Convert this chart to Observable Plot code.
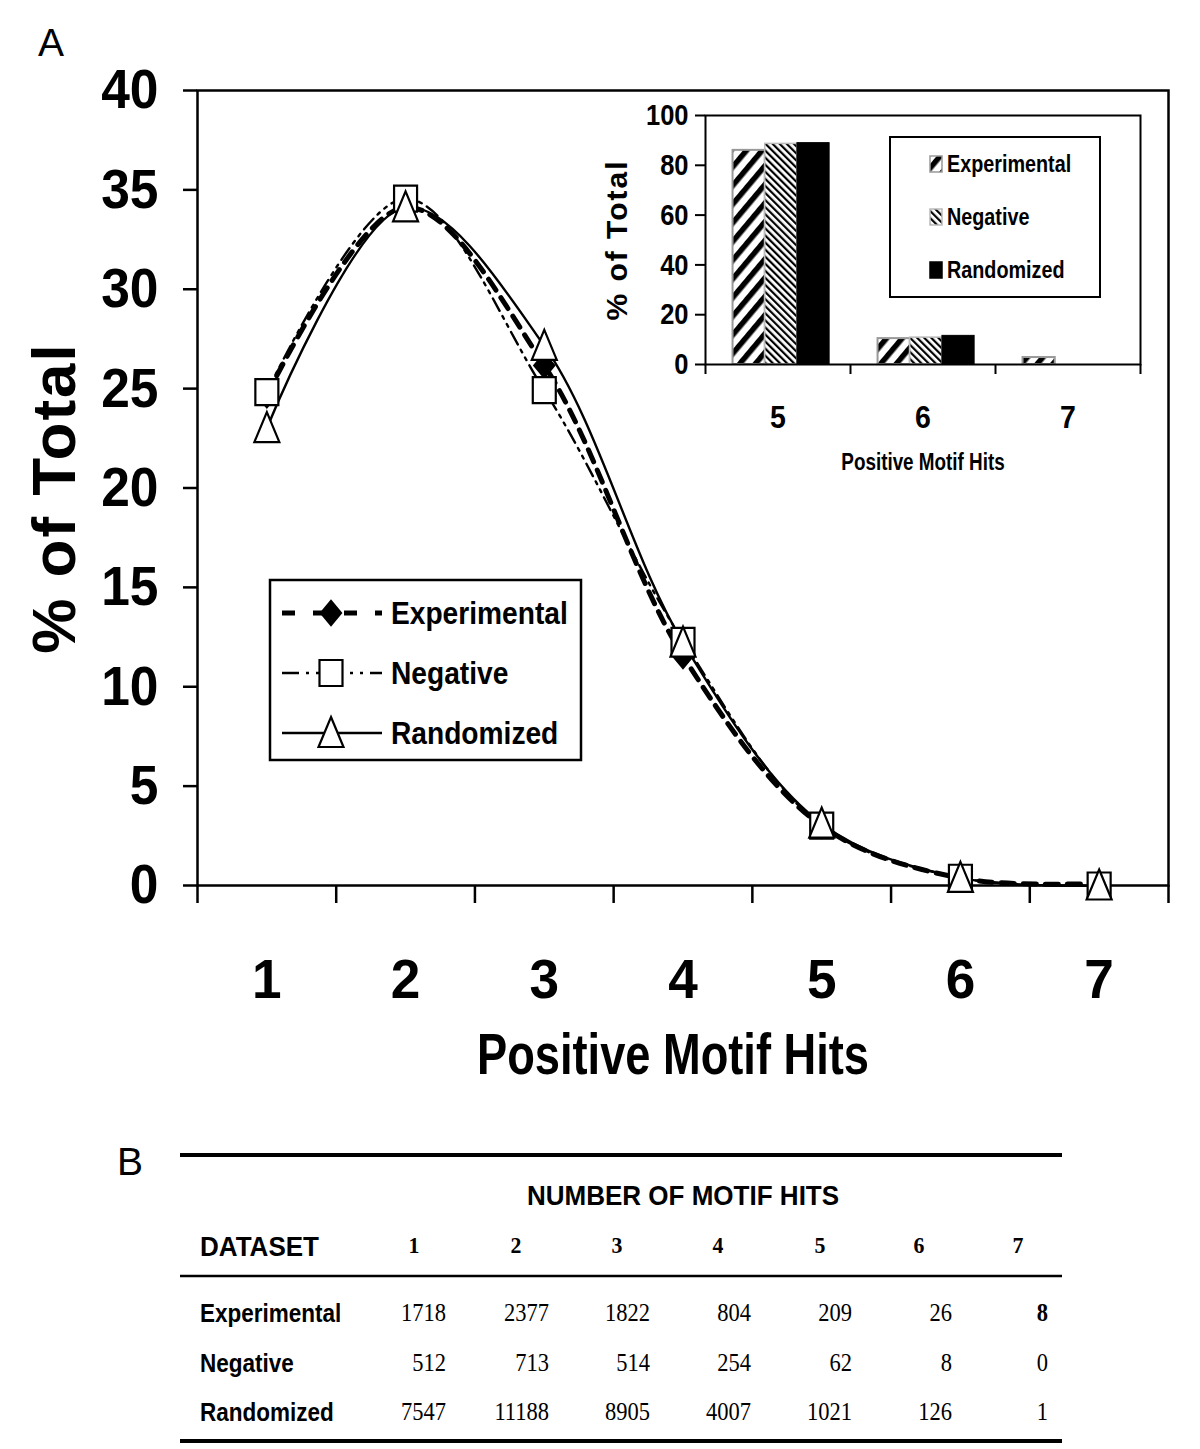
<!DOCTYPE html>
<html><head><meta charset="utf-8">
<script src="https://cdn.jsdelivr.net/npm/d3@7"></script>
<script src="https://cdn.jsdelivr.net/npm/@observablehq/plot@0.6"></script>
<style>
body{margin:0;background:#fff;}
#root{position:relative;width:1200px;height:1449px;overflow:hidden;background:#fff;}
</style></head><body><div id="root"></div>
<script>
// ---------- data ----------
const hits = [1, 2, 3, 4, 5, 6, 7];
const seriesNames = ["Experimental", "Negative", "Randomized"];
const experimentalPct = [24.67, 34.13, 26.16, 11.55, 3.00, 0.37, 0.11];
const negativePct = [24.82, 34.56, 24.92, 12.31, 3.01, 0.39, 0.00];
const randomizedPct = [23.01, 34.12, 27.15, 12.22, 3.11, 0.38, 0.00];
const yTicks = [0, 5, 10, 15, 20, 25, 30, 35, 40];
const xBoundaries = [0.5, 1.5, 2.5, 3.5, 4.5, 5.5, 6.5, 7.5];

const insetHits = [5, 6, 7];
const insetExperimental = [86.0, 10.4, 2.8];
const insetNegative = [88.6, 10.8, 0];
const insetRandomized = [88.9, 11.5, 0];
const insetYTicks = [0, 20, 40, 60, 80, 100];
const insetBoundaries = [4.5, 5.5, 6.5, 7.5];

const tableTitle = "NUMBER OF MOTIF HITS";
const tableHeader = ["1", "2", "3", "4", "5", "6", "7"];
const experimentalCounts = ["1718", "2377", "1822", "804", "209", "26", "8"];
const negativeCounts = ["512", "713", "514", "254", "62", "8", "0"];
const randomizedCounts = ["7547", "11188", "8905", "4007", "1021", "126", "1"];

// ---------- helpers ----------
const SANS = '"Liberation Sans", Arial, Helvetica, sans-serif';
const SERIF = '"Liberation Serif", "Times New Roman", Times, serif';

function condense(svg, selector, sx) {
  d3.select(svg).selectAll(selector).each(function () {
    const t = d3.select(this);
    const tr = t.attr("transform") || "";
    const x = t.attr("x");
    if (x != null && !isNaN(+x)) t.attr("x", +x / sx);
    t.attr("transform", `${tr} scale(${sx},1)`);
  });
}

const symbols = {
  diamond: {draw(c) { c.moveTo(0, -12); c.lineTo(10, 0); c.lineTo(0, 12); c.lineTo(-10, 0); c.closePath(); }},
  square: {draw(c) { c.rect(-11.5, -13, 23, 26); }},
  triangle: {draw(c) { c.moveTo(0, -16); c.lineTo(12.5, 14); c.lineTo(-12.5, 14); c.closePath(); }}
};
const symPath = s => { const p = d3.path(); symbols[s].draw(p); return p.toString(); };

const styles = {
  Experimental: {strokeWidth: 5, dash: "13,9", legendDash: "13,18", sym: "diamond", fill: "black"},
  Negative: {strokeWidth: 2.4, dash: "14,6,3,6,3,6", legendDash: "17,7,3,7,3,7", sym: "square", fill: "white"},
  Randomized: {strokeWidth: 2.4, dash: null, legendDash: null, sym: "triangle", fill: "white"}
};

const rows = [];
hits.forEach((h, i) => {
  rows.push({hit: h, series: "Experimental", pct: experimentalPct[i]});
  rows.push({hit: h, series: "Negative", pct: negativePct[i]});
  rows.push({hit: h, series: "Randomized", pct: randomizedPct[i]});
});
const bySeries = s => rows.filter(d => d.series === s);

const root = d3.select("#root");

// ---------- main chart ----------
const main = Plot.plot({
  width: 1200, height: 1100,
  marginLeft: 197, marginRight: 32, marginTop: 90, marginBottom: 215,
  style: {background: "transparent", fontFamily: SANS, fontWeight: "bold", color: "black", overflow: "visible"},
  x: {domain: [0.5, 7.5], label: null},
  y: {domain: [0, 40], label: null},
  marks: [
    Plot.axisY({ticks: yTicks, tickSize: 14, tickPadding: 25, fontSize: 56, strokeWidth: 2.5, tickFormat: d => String(d)}),
    Plot.axisX({ticks: hits, tickSize: 0, tickPadding: 73, fontSize: 56, tickFormat: d => String(d)}),
    Plot.axisX({ticks: xBoundaries, tickSize: 18, strokeWidth: 2.5, tickFormat: () => ""}),
    Plot.frame({stroke: "black", strokeWidth: 2.5}),
    ...seriesNames.map(s => Plot.line(bySeries(s), {
      x: "hit", y: "pct", curve: "catmull-rom", stroke: "black",
      strokeWidth: styles[s].strokeWidth, strokeDasharray: styles[s].dash
    })),
    ...seriesNames.map(s => Plot.dot(bySeries(s), {
      x: "hit", y: "pct", symbol: symbols[styles[s].sym], r: 10,
      fill: styles[s].fill, stroke: "black", strokeWidth: 2.2
    })),
    Plot.text(["Positive Motif Hits"], {frameAnchor: "bottom", dy: 170, dx: -10, fontSize: 58, fontWeight: "bold", lineAnchor: "middle", textAnchor: "middle"}),
    Plot.text(["% of Total"], {frameAnchor: "left", rotate: -90, dx: -142, dy: 10, fontSize: 62, fontWeight: "bold", lineAnchor: "middle", textAnchor: "middle"})
  ]
});
d3.select(main).style("position", "absolute").style("left", "0px").style("top", "0px");
root.node().appendChild(main);
condense(main, 'g[aria-label="y-axis tick label"] text', 0.92);
condense(main, 'g[aria-label="x-axis tick label"] text', 0.95);
const mainTexts = d3.select(main).selectAll('g[aria-label="text"]').nodes();
d3.select(mainTexts[0]).selectAll("text").each(function () {
  const t = d3.select(this); t.attr("transform", (t.attr("transform") || "") + " scale(0.78,1)");
});
d3.select(mainTexts[1]).selectAll("text").style("letter-spacing", "2px");

// ---------- inset chart ----------
const insetRows = [];
insetHits.forEach((h, i) => {
  insetRows.push({hit: h, series: "Experimental", idx: 0, pct: insetExperimental[i]});
  insetRows.push({hit: h, series: "Negative", idx: 1, pct: insetNegative[i]});
  insetRows.push({hit: h, series: "Randomized", idx: 2, pct: insetRandomized[i]});
});
const barW = 0.222, groupStart = -0.31;
const barStyles = {
  Experimental: {fill: "url(#hatchExp)", stroke: "#999", strokeWidth: 2},
  Negative: {fill: "url(#hatchNeg)", stroke: "#bbb", strokeWidth: 1.5},
  Randomized: {fill: "black", stroke: "black", strokeWidth: 1}
};
const inset = Plot.plot({
  width: 575, height: 395,
  marginLeft: 115, marginRight: 25, marginTop: 25, marginBottom: 121,
  style: {background: "transparent", fontFamily: SANS, fontWeight: "bold", color: "black", overflow: "visible"},
  x: {domain: [4.5, 7.5], label: null},
  y: {domain: [0, 100], label: null},
  marks: [
    ...seriesNames.map(s => Plot.rectY(insetRows.filter(d => d.series === s && d.pct > 0), {
      x1: d => d.hit + groupStart + d.idx * barW,
      x2: d => d.hit + groupStart + (d.idx + 1) * barW,
      y1: 0, y2: "pct", ...barStyles[s]
    })),
    Plot.axisY({ticks: insetYTicks, tickSize: 10, tickPadding: 7, fontSize: 30, strokeWidth: 2, tickFormat: d => String(d)}),
    Plot.axisX({ticks: insetHits, tickSize: 0, tickPadding: 41, fontSize: 31, tickFormat: d => String(d)}),
    Plot.axisX({ticks: insetBoundaries, tickSize: 10, strokeWidth: 2, tickFormat: () => ""}),
    Plot.frame({stroke: "black", strokeWidth: 2}),
    Plot.text(["Positive Motif Hits"], {frameAnchor: "bottom", dy: 98, fontSize: 23, fontWeight: "bold", lineAnchor: "middle", textAnchor: "middle"}),
    Plot.text(["% of Total"], {frameAnchor: "left", rotate: -90, dx: -88, fontSize: 30, fontWeight: "bold", lineAnchor: "middle", textAnchor: "middle"})
  ]
});
d3.select(inset).style("position", "absolute").style("left", "590px").style("top", "90px");
root.node().appendChild(inset);
condense(inset, 'g[aria-label="y-axis tick label"] text', 0.85);
condense(inset, 'g[aria-label="x-axis tick label"] text', 0.92);
const insetTexts = d3.select(inset).selectAll('g[aria-label="text"]').nodes();
d3.select(insetTexts[0]).selectAll("text").each(function () {
  const t = d3.select(this); t.attr("transform", (t.attr("transform") || "") + " scale(0.82,1)");
});
d3.select(insetTexts[1]).selectAll("text").style("letter-spacing", "2px");

// ---------- overlay (patterns, legends, labels, table) ----------
const ov = root.append("svg").attr("width", 1200).attr("height", 1449)
  .style("position", "absolute").style("left", "0px").style("top", "0px");
const defs = ov.append("defs");
const pe = defs.append("pattern").attr("id", "hatchExp").attr("patternUnits", "userSpaceOnUse")
  .attr("width", 12).attr("height", 12).attr("patternTransform", "rotate(40)");
pe.append("rect").attr("width", 12).attr("height", 12).attr("fill", "white");
pe.append("rect").attr("width", 5.5).attr("height", 12).attr("fill", "black");
const pn = defs.append("pattern").attr("id", "hatchNeg").attr("patternUnits", "userSpaceOnUse")
  .attr("width", 5).attr("height", 5).attr("patternTransform", "rotate(-45)");
pn.append("rect").attr("width", 5).attr("height", 5).attr("fill", "white");
pn.append("rect").attr("width", 2.2).attr("height", 5).attr("fill", "black");

function txt(g, s, x, y, o) {
  return g.append("text")
    .attr("transform", `translate(${x},${y}) scale(${o.sx || 1},1)`)
    .attr("font-size", o.size).attr("font-weight", o.weight || "bold")
    .attr("font-family", o.family || SANS).attr("text-anchor", o.anchor || "start")
    .attr("fill", "black").text(s);
}

// panel letters
txt(ov, "A", 38, 56, {size: 39, weight: "normal"});
txt(ov, "B", 117, 1175, {size: 39, weight: "normal"});

// main legend
const lg = ov.append("g").attr("transform", "translate(270,580)");
lg.append("rect").attr("width", 311).attr("height", 180).attr("fill", "white").attr("stroke", "black").attr("stroke-width", 2.5);
seriesNames.forEach((s, i) => {
  const y = 33 + i * 60;
  const st = styles[s];
  lg.append("line").attr("x1", 12).attr("x2", 112).attr("y1", y).attr("y2", y)
    .attr("stroke", "black").attr("stroke-width", st.strokeWidth)
    .attr("stroke-dasharray", st.legendDash);
  lg.append("path").attr("d", symPath(st.sym)).attr("transform", `translate(61,${y})`)
    .attr("fill", st.fill).attr("stroke", "black").attr("stroke-width", 2.2);
  txt(lg, s, 121, y + 0.358 * 32, {size: 32, sx: 0.88});
});

// inset legend
const il = ov.append("g").attr("transform", "translate(890,137)");
il.append("rect").attr("width", 210).attr("height", 160).attr("fill", "white").attr("stroke", "black").attr("stroke-width", 2);
seriesNames.forEach((s, i) => {
  const y = 27 + i * 53;
  const bs = barStyles[s];
  il.append("rect").attr("x", 40).attr("y", y - 8).attr("width", 12).attr("height", 16)
    .attr("fill", bs.fill).attr("stroke", bs.stroke).attr("stroke-width", 1.5);
  txt(il, s, 57, y + 0.358 * 23, {size: 23, sx: 0.86});
});

// table
const tb = ov.append("g");
const ruleX1 = 180, ruleX2 = 1062;
tb.append("line").attr("x1", ruleX1).attr("x2", ruleX2).attr("y1", 1155).attr("y2", 1155).attr("stroke", "black").attr("stroke-width", 4);
tb.append("line").attr("x1", ruleX1).attr("x2", ruleX2).attr("y1", 1276).attr("y2", 1276).attr("stroke", "black").attr("stroke-width", 2.5);
tb.append("line").attr("x1", ruleX1).attr("x2", ruleX2).attr("y1", 1441).attr("y2", 1441).attr("stroke", "black").attr("stroke-width", 4);
txt(tb, tableTitle, 683, 1195 + 0.358 * 28, {size: 28, anchor: "middle", sx: 0.93});
txt(tb, "DATASET", 200, 1246 + 0.358 * 28, {size: 28, sx: 0.93});
const headerCenters = [414, 516, 617, 718, 820, 919, 1018];
const numberRights = [446, 549, 650, 751, 852, 952, 1048];
tableHeader.forEach((h, i) => txt(tb, h, headerCenters[i], 1245 + 0.338 * 23, {size: 23, family: SERIF, anchor: "middle", sx: 0.95}));
const tableRows = [
  {name: "Experimental", counts: experimentalCounts, boldLast: true},
  {name: "Negative", counts: negativeCounts, boldLast: false},
  {name: "Randomized", counts: randomizedCounts, boldLast: false}
];
const rowCenters = [1313, 1363, 1412];
tableRows.forEach((r, j) => {
  const cy = rowCenters[j];
  txt(tb, r.name, 200, cy + 0.358 * 25, {size: 25, sx: 0.9});
  r.counts.forEach((c, i) => txt(tb, c, numberRights[i], cy + 0.338 * 25, {
    size: 25, family: SERIF, anchor: "end", sx: 0.9,
    weight: (r.boldLast && i === r.counts.length - 1) ? "bold" : "normal"
  }));
});
</script></body></html>
